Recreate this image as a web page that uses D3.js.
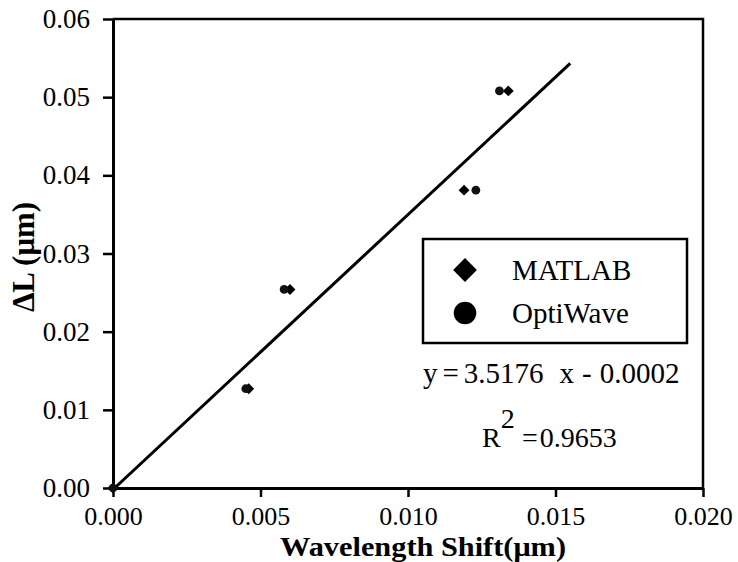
<!DOCTYPE html>
<html>
<head>
<meta charset="utf-8">
<script src="https://cdn.jsdelivr.net/npm/d3@7"></script>
<style>
  html, body { margin: 0; padding: 0; background: #fff; }
  svg { display: block; }
  svg text { font-family: "Liberation Serif", Tinos, "Times New Roman", Times, "DejaVu Serif", serif !important; fill: #000; }
</style>
</head>
<body>
<svg id="chart" width="738" height="562"></svg>
<script>
// Measured cavity length change versus resonance wavelength shift
const matlabX = [0.0000, 0.0046, 0.0060, 0.0119, 0.0134];
const matlabY = [0.0000, 0.0127, 0.0254, 0.0381, 0.0508];
const optiX   = [0.0000, 0.0045, 0.0058, 0.0123, 0.0131];
const optiY   = [0.0000, 0.0127, 0.0254, 0.0381, 0.0508];

// Linear fit y = slope * x + intercept
const fitSlope = 3.5176;
const fitIntercept = -0.0002;
const fitXEnd = 0.0155;
const fitR2 = 0.9653;

const xTicks = [0, 0.005, 0.010, 0.015, 0.020];
const yTicks = [0, 0.01, 0.02, 0.03, 0.04, 0.05, 0.06];
const seriesNames = ["MATLAB", "OptiWave"];

const serif = "'Liberation Serif', Tinos, 'Times New Roman', Times, 'DejaVu Serif', serif";

const svg = d3.select("#chart");
const margin = { left: 113, top: 19, right: 35, bottom: 74 };
const W = 738 - margin.left - margin.right;
const H = 562 - margin.top - margin.bottom;

const x = d3.scaleLinear().domain([0, 0.02]).range([0, W]);
const y = d3.scaleLinear().domain([0, 0.06]).range([H, 0]);

const g = svg.append("g").attr("transform", `translate(${margin.left},${margin.top})`);

// frame: top and right edges
g.append("path")
  .attr("d", `M0,0H${W}V${H}`)
  .attr("fill", "none").attr("stroke", "#000").attr("stroke-width", 2.5);

// axes
const xAxis = g.append("g").attr("transform", `translate(0,${H})`)
  .call(d3.axisBottom(x).tickValues(xTicks).tickFormat(d3.format(".3f")).tickSize(9).tickPadding(10).tickSizeOuter(0));
const yAxis = g.append("g")
  .call(d3.axisLeft(y).tickValues(yTicks).tickFormat(d3.format(".2f")).tickSize(10).tickPadding(13).tickSizeOuter(0));

[xAxis, yAxis].forEach(a => {
  a.attr("font-family", serif).attr("font-size", 27);
  a.select(".domain").attr("stroke", "#000").attr("stroke-width", 3);
  a.selectAll(".tick line").attr("stroke", "#000").attr("stroke-width", 2.5);
  a.selectAll(".tick text").attr("fill", "#000");
});
xAxis.attr("font-size", 26);

// trend line
const fx0 = -fitIntercept / fitSlope;
const fitPts = [fx0, fitXEnd].map(v => [x(v), y(fitSlope * v + fitIntercept)]);
g.append("line")
  .attr("x1", fitPts[0][0]).attr("y1", fitPts[0][1])
  .attr("x2", fitPts[1][0]).attr("y2", fitPts[1][1])
  .attr("stroke", "#000").attr("stroke-width", 3);

// markers
const diamond = d3.symbol().type(d3.symbolDiamond2);
const circle = d3.symbol().type(d3.symbolCircle);

g.selectAll(".matlab").data(d3.zip(matlabX, matlabY)).join("path")
  .attr("class", "matlab")
  .attr("d", diamond.size(75)())
  .attr("transform", d => `translate(${x(d[0])},${y(d[1])})`)
  .attr("fill", "#000");

g.selectAll(".opti").data(d3.zip(optiX, optiY)).join("path")
  .attr("class", "opti")
  .attr("d", circle.size(60)())
  .attr("transform", d => `translate(${x(d[0])},${y(d[1])})`)
  .attr("fill", "#111");

// legend
const leg = svg.append("g").attr("transform", "translate(423,239)");
leg.append("rect").attr("width", 264).attr("height", 104)
  .attr("fill", "#fff").attr("stroke", "#000").attr("stroke-width", 2.5);
leg.append("path").attr("d", diamond.size(360)())
  .attr("transform", "translate(42,31)").attr("fill", "#000");
leg.append("path").attr("d", circle.size(400)())
  .attr("transform", "translate(42,74)").attr("fill", "#000");
leg.selectAll("text.lg").data(seriesNames).join("text")
  .attr("class", "lg")
  .attr("x", 89).attr("y", (d, i) => 41 + i * 43)
  .attr("font-family", serif)
  .attr("font-size", 29)
  .text(d => d);

// regression annotation
const eq = svg.append("text")
  .attr("x", 423).attr("y", 383)
  .attr("font-family", serif)
  .attr("font-size", 29)
  .style("white-space", "pre");
eq.append("tspan").text("y");
eq.append("tspan").attr("dx", 5).text("=");
eq.append("tspan").attr("dx", 5).text(fitSlope.toFixed(4));
eq.append("tspan").attr("dx", 16).text("x");
eq.append("tspan").attr("dx", 8).text("-");
eq.append("tspan").attr("dx", 8).text(Math.abs(fitIntercept).toFixed(4));

const r2 = svg.append("text").attr("x", 482).attr("y", 447)
  .attr("font-family", serif).attr("font-size", 28);
r2.append("tspan").text("R");
r2.append("tspan").attr("dy", -19).text("2");
r2.append("tspan").attr("x", 522).attr("dy", 19).text("=");
r2.append("tspan").attr("dx", 2).text(fitR2.toFixed(4));

// axis titles
svg.append("text")
  .attr("x", 423).attr("y", 556)
  .attr("text-anchor", "middle")
  .attr("font-family", serif)
  .attr("font-size", 27).attr("font-weight", "bold")
  .attr("textLength", 286).attr("lengthAdjust", "spacingAndGlyphs")
  .text("Wavelength Shift(μm)");
svg.append("text")
  .attr("transform", "translate(34,257) rotate(-90)")
  .attr("text-anchor", "middle")
  .attr("font-family", serif)
  .attr("font-size", 31).attr("font-weight", "bold")
  .text("ΔL (μm)");
</script>
</body>
</html>
